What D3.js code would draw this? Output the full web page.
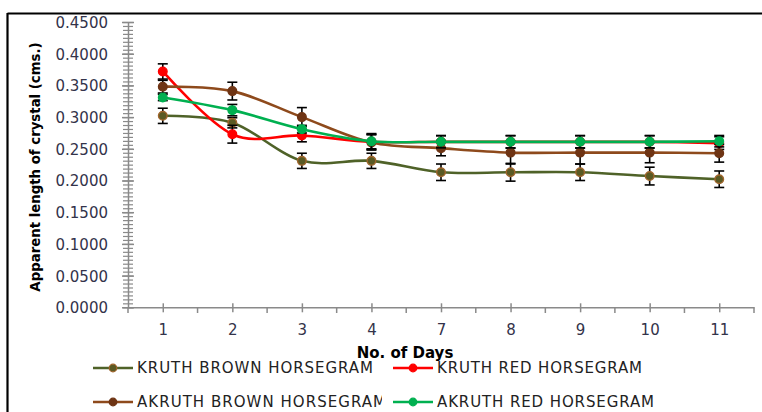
<!DOCTYPE html>
<html><head><meta charset="utf-8">
<script src="https://cdn.jsdelivr.net/npm/d3@7"></script>
<style>
html,body{margin:0;padding:0;background:#fff;}
svg{display:block;}
</style></head>
<body>
<svg id="chart" width="762" height="412"></svg>
<script>
const days = ["1","2","3","4","7","8","9","10","11"];
const seriesNames = ["KRUTH BROWN HORSEGRAM","KRUTH RED HORSEGRAM","AKRUTH BROWN HORSEGRAM","AKRUTH RED HORSEGRAM"];
const kruthBrown   = [0.302,0.291,0.231,0.231,0.213,0.213,0.213,0.207,0.202];
const kruthRed     = [0.372,0.273,0.271,0.261,0.261,0.261,0.261,0.261,0.259];
const akruthBrown  = [0.348,0.341,0.300,0.260,0.251,0.244,0.244,0.244,0.243];
const akruthRed    = [0.331,0.311,0.281,0.262,0.261,0.261,0.261,0.261,0.262];
const kruthBrownErr  = [0.012,0.008,0.012,0.012,0.013,0.014,0.013,0.014,0.013];
const kruthRedErr    = [0.012,0.014,0.010,0.012,0.010,0.010,0.010,0.010,0.010];
const akruthBrownErr = [0.010,0.014,0.015,0.012,0.012,0.018,0.018,0.016,0.014];
const akruthRedErr   = [0.005,0.009,0.006,0.012,0.0095,0.0095,0.0095,0.0095,0.009];
const yTicks = [0,0.05,0.1,0.15,0.2,0.25,0.3,0.35,0.4,0.45];
const xTitle = "No. of Days";
const yTitle = "Apparent length of crystal (cms.)";

const styles = [
  {line:"#4F6228", fill:"#5A5A24", stroke:"#A0652C"},
  {line:"#FF0000", fill:"#FF0000", stroke:"#FF0000"},
  {line:"#8E4A1C", fill:"#6E3414", stroke:"#6E3414"},
  {line:"#00B050", fill:"#00B050", stroke:"#00B050"}
];
const series = [
  {name:seriesNames[0], values:kruthBrown, err:kruthBrownErr},
  {name:seriesNames[1], values:kruthRed, err:kruthRedErr},
  {name:seriesNames[2], values:akruthBrown, err:akruthBrownErr},
  {name:seriesNames[3], values:akruthRed, err:akruthRedErr}
];

const svg = d3.select("#chart");
const FONT = "'DejaVu Sans', Verdana, sans-serif";

// frame (top and left edges)
svg.append("line").attr("x1",7.5).attr("x2",762).attr("y1",13.5).attr("y2",13.5).attr("stroke","#000").attr("stroke-width",2.2);
svg.append("line").attr("x1",7.5).attr("x2",7.5).attr("y1",13).attr("y2",412).attr("stroke","#000").attr("stroke-width",2.2);

const x = d3.scalePoint().domain(days).range([128,754]).padding(0.5);
const y = d3.scaleLinear().domain([0,0.45]).range([307.3,22]);
const AX = "#8a8a8a";

// Y minor ticks
const minorY = d3.range(0, 0.45+1e-9, 0.05/8);
const gyMinor = svg.append("g").attr("transform","translate(128,0)")
  .call(d3.axisLeft(y).tickValues(minorY).tickSize(0).tickFormat(""));
gyMinor.select(".domain").remove();
gyMinor.selectAll(".tick line").attr("x1",-5).attr("x2",5).attr("stroke",AX).attr("stroke-width",1.2);

// Y major axis
const gy = svg.append("g").attr("transform","translate(128,0)")
  .call(d3.axisLeft(y).tickValues(yTicks).tickFormat(d3.format(".4f")).tickSize(0).tickPadding(20));
gy.select(".domain").attr("stroke",AX).attr("stroke-width",1.5);
gy.selectAll(".tick line").attr("x1",-6).attr("x2",6).attr("stroke",AX).attr("stroke-width",1.5);
gy.selectAll(".tick text").attr("font-family",FONT).attr("font-size","15px").attr("fill","#33334a").attr("dy","0.36em");

// X axis
const gx = svg.append("g").attr("transform","translate(0,307.3)")
  .call(d3.axisBottom(x).tickSize(0).tickPadding(22));
gx.select(".domain").attr("stroke",AX).attr("stroke-width",1.5);
gx.selectAll(".tick line").attr("y1",-4).attr("y2",5).attr("stroke",AX).attr("stroke-width",1.5);
gx.selectAll(".tick text").attr("font-family",FONT).attr("font-size","15px").attr("fill","#33334a").attr("dy","0.36em");
// minor x ticks at category boundaries
const step = x.step();
const bounds = d3.range(days.length+1).map(i => x(days[0]) - step/2 + i*step);
svg.append("g").selectAll("line").data(bounds).join("line")
  .attr("x1",d=>d).attr("x2",d=>d).attr("y1",307.3).attr("y2",313)
  .attr("stroke",AX).attr("stroke-width",1.5);

// titles
svg.append("text").attr("x",405).attr("y",358).attr("text-anchor","middle")
  .attr("font-family",FONT).attr("font-weight","bold").attr("font-size","15px").attr("fill","#000").text(xTitle);
svg.append("text").attr("transform","translate(40,167) rotate(-90)").attr("text-anchor","middle")
  .attr("font-family",FONT).attr("font-weight","bold").attr("font-size","13.3px").attr("fill","#000").text(yTitle);

// lines
const lineGen = d3.line().x((d,i)=>x(days[i])).y(d=>y(d)).curve(d3.curveCardinal.tension(0));
const gS = svg.append("g");
series.forEach((s,k)=>{
  const g = gS.append("g");
  g.append("path").attr("d",lineGen(s.values)).attr("fill","none")
    .attr("stroke",styles[k].line).attr("stroke-width",2.6).attr("stroke-linejoin","round");
  // error bars
  const eb = g.append("g").attr("stroke","#000").attr("stroke-width",1.6);
  s.values.forEach((v,i)=>{
    const cx = x(days[i]), y1 = y(v+s.err[i]), y2 = y(v-s.err[i]);
    eb.append("line").attr("x1",cx).attr("x2",cx).attr("y1",y1).attr("y2",y2);
    eb.append("line").attr("x1",cx-5).attr("x2",cx+5).attr("y1",y1).attr("y2",y1);
    eb.append("line").attr("x1",cx-5).attr("x2",cx+5).attr("y1",y2).attr("y2",y2);
  });
  g.selectAll("circle").data(s.values).join("circle")
    .attr("cx",(d,i)=>x(days[i])).attr("cy",d=>y(d)).attr("r",4.3)
    .attr("fill",styles[k].fill).attr("stroke",styles[k].stroke).attr("stroke-width",1.4);
});

// legend
const legendPos = [
  {lx:93, ty:368, tx:137, w:236},
  {lx:393, ty:368, tx:437, w:205},
  {lx:93, ty:402, tx:137, w:249},
  {lx:393, ty:402, tx:437, w:217}
];
svg.append("defs").append("clipPath").attr("id","legclip")
  .append("rect").attr("x",0).attr("y",330).attr("width",382).attr("height",82);
const gL = svg.append("g");
series.forEach((s,k)=>{
  const p = legendPos[k];
  const g = gL.append("g");
  g.append("line").attr("x1",p.lx).attr("x2",p.lx+40).attr("y1",p.ty).attr("y2",p.ty)
    .attr("stroke",styles[k].line).attr("stroke-width",2.6);
  g.append("circle").attr("cx",p.lx+20).attr("cy",p.ty).attr("r",3.8)
    .attr("fill",styles[k].fill).attr("stroke",styles[k].stroke).attr("stroke-width",1.2);
  const t = g.append("text").attr("x",p.tx).attr("y",p.ty).attr("dy","0.36em")
    .attr("font-family",FONT).attr("font-size","15px").attr("fill","#222")
    .attr("textLength",p.w).attr("lengthAdjust","spacing").text(s.name);
  if (k===2) t.attr("clip-path","url(#legclip)");
});
</script>
</body></html>
